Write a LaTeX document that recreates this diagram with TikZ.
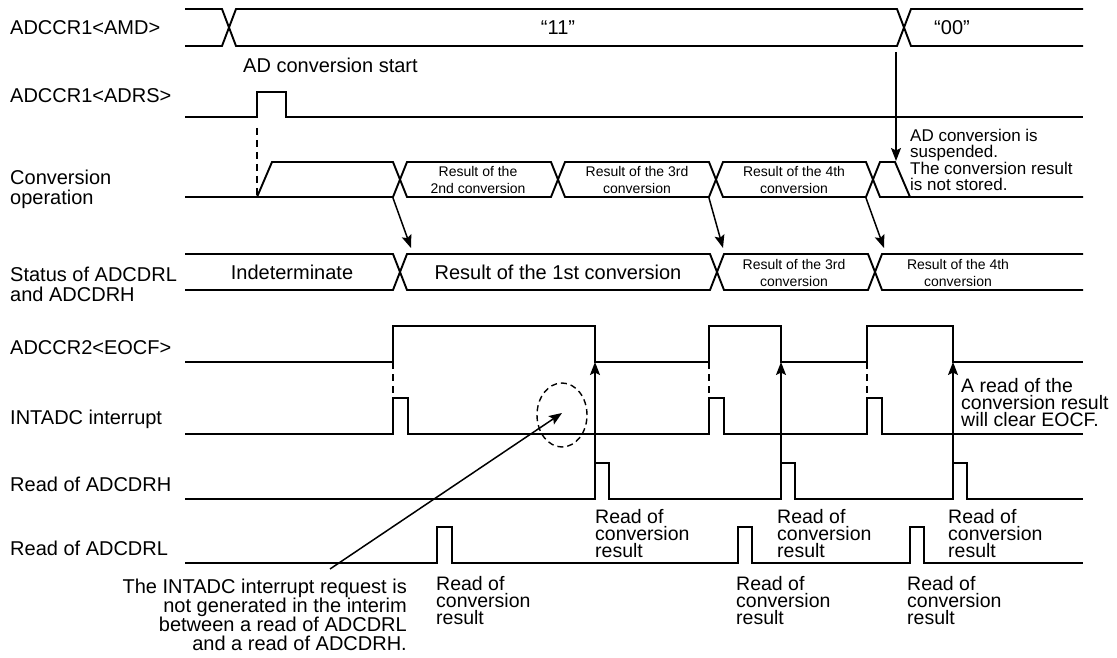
\documentclass[tikz,border=0pt]{standalone}
\usepackage{fontspec}
\setmainfont{Liberation Sans}
\usetikzlibrary{arrows.meta,shapes.geometric}
\begin{document}
\begin{tikzpicture}[x=1pt,y=-1pt,
  sig/.style={line width=1.9pt, line join=miter},
  dsh/.style={line width=1.9pt, dash pattern=on 7pt off 5pt},
  arr/.style={line width=1.5pt, -{Stealth[length=13pt,width=10pt,inset=2.5pt]}},
  lbl/.style={anchor=base west, inner sep=0pt, font=\fontsize{20}{20}\selectfont},
  lbltwo/.style={anchor=north west, inner sep=0pt, align=left, font=\fontsize{20}{20}\selectfont},
  big/.style={inner sep=0pt, font=\fontsize{20}{20}\selectfont},
  small/.style={anchor=north, inner sep=0pt, align=center, font=\fontsize{14}{17}\selectfont},
  readres/.style={anchor=north west, inner sep=0pt, align=left, font=\fontsize{19.5}{17}\selectfont},
  note/.style={inner sep=0pt, font=\fontsize{17}{16.3}\selectfont}
]
\useasboundingbox (0,0) rectangle (1117,658);

% ---- left labels
\node[lbl] (lamd) at (10,35) {ADCCR1<AMD>};
\node[lbl] (ladrs) at (10,103) {ADCCR1<ADRS>};
\node[lbltwo] (lconv) at (10,170) {Conversion\\operation};
\node[lbltwo] (lstat) at (10,267) {Status of ADCDRL\\and ADCDRH};
\node[lbl] (leocf) at (10,354) {ADCCR2<EOCF>};
\node[lbl] (lint) at (10,424) {INTADC interrupt};
\node[lbl] (lrdh) at (10,491) {Read of ADCDRH};
\node[lbl] (lrdl) at (10,555) {Read of ADCDRL};

% ---- ADCCR1<AMD>
\draw[sig] (185,9) -- (222,9) -- (236,46) -- (897,46) -- (911,9) -- (1083,9);
\draw[sig] (185,46) -- (222,46) -- (236,9) -- (897,9) -- (911,46) -- (1083,46);
\node[big] (v11) at (558,28) {“11”};
\node[big] (v00) at (952,28) {“00”};

% ---- ADCCR1<ADRS>
\draw[sig] (185,117) -- (257,117) -- (257,92) -- (286,92) -- (286,117) -- (1083,117);
\node[lbl] (adstart) at (243,73) {AD conversion start};
\coordinate (ds1) at (257,128);
\coordinate (ds2) at (257,197);
\draw[dsh] (ds1) -- (ds2);

% ---- Conversion operation
\draw[sig] (185,197) -- (257,197) -- (272,162) -- (393,162) -- (407,197) -- (551,197) -- (565,162) -- (709,162) -- (723,197) -- (866,197) -- (880,162) -- (895,162) -- (910,197);
\draw[sig] (257,197) -- (393,197) -- (407,162) -- (551,162) -- (565,197) -- (709,197) -- (723,162) -- (866,162) -- (880,197) -- (1083,197);
\node[small] (c2) at (478,166) {Result of the\\2nd conversion};
\node[small] (c3) at (637,166) {Result of the 3rd\\conversion};
\node[small] (c4) at (794,166) {Result of the 4th\\conversion};

% suspension
\coordinate (susA) at (896,52);
\coordinate (susB) at (896,161);
\draw[arr] (susA) -- (susB);
\node[note, anchor=north west, align=left] (susp) at (910,129) {AD conversion is\\suspended.\\The conversion result\\is not stored.};

% ---- Status
\draw[sig] (185,254) -- (393,254) -- (407,290) -- (710,290) -- (724,254) -- (868,254) -- (882,290) -- (1083,290);
\draw[sig] (185,290) -- (393,290) -- (407,254) -- (710,254) -- (724,290) -- (868,290) -- (882,254) -- (1083,254);
\node[big] (sind) at (292,272) {Indeterminate};
\node[big] (s1) at (558,272) {Result of the 1st conversion};
\node[small] (s3) at (794,259) {Result of the 3rd\\conversion};
\node[small] (s4) at (958,259) {Result of the 4th\\conversion};

% conversion -> status arrows
\coordinate (ca1) at (393,198);
\coordinate (cb1) at (411,248);
\coordinate (ca2) at (709,198);
\coordinate (cb2) at (723,248);
\coordinate (ca3) at (866,198);
\coordinate (cb3) at (884,248);
\draw[arr] (ca1) -- (cb1);
\draw[arr] (ca2) -- (cb2);
\draw[arr] (ca3) -- (cb3);

% ---- EOCF
\draw[sig] (185,362) -- (393,362) -- (393,326) -- (595,326) -- (595,362) -- (709,362) -- (709,326) -- (781,326) -- (781,362) -- (867,362) -- (867,326) -- (953,326) -- (953,362) -- (1083,362);

% ---- INTADC
\draw[sig] (185,434) -- (393,434) -- (393,398) -- (408,398) -- (408,434) -- (709,434) -- (709,398) -- (724,398) -- (724,434) -- (867,434) -- (867,398) -- (882,398) -- (882,434) -- (1083,434);
\coordinate (e1a) at (393,362); \coordinate (e1b) at (393,398);
\coordinate (e2a) at (709,362); \coordinate (e2b) at (709,398);
\coordinate (e3a) at (867,362); \coordinate (e3b) at (867,398);
\draw[dsh] (e1a) -- (e1b);
\draw[dsh] (e2a) -- (e2b);
\draw[dsh] (e3a) -- (e3b);

% ---- Read of ADCDRH
\draw[sig] (185,499) -- (595,499) -- (595,463) -- (609,463) -- (609,499) -- (781,499) -- (781,463) -- (795,463) -- (795,499) -- (953,499) -- (953,463) -- (967,463) -- (967,499) -- (1083,499);
% ---- Read of ADCDRL
\draw[sig] (185,563) -- (437,563) -- (437,527) -- (452,527) -- (452,563) -- (738,563) -- (738,527) -- (752,527) -- (752,563) -- (910,563) -- (910,527) -- (924,527) -- (924,563) -- (1083,563);

% read -> EOCF clear arrows
\coordinate (r1a) at (595,463); \coordinate (r1b) at (595,362);
\coordinate (r2a) at (781,463); \coordinate (r2b) at (781,362);
\coordinate (r3a) at (953,463); \coordinate (r3b) at (953,362);
\draw[arr] (r1a) -- (r1b);
\draw[arr] (r2a) -- (r2b);
\draw[arr] (r3a) -- (r3b);
\node[readres] (clr) at (961,378) {A read of the\\conversion result\\will clear EOCF.};

% read result labels
\node[readres] (rh1) at (595,509) {Read of\\conversion\\result};
\node[readres] (rh2) at (777,509) {Read of\\conversion\\result};
\node[readres] (rh3) at (948,509) {Read of\\conversion\\result};
\node[readres] (rl1) at (436,576) {Read of\\conversion\\result};
\node[readres] (rl2) at (736,576) {Read of\\conversion\\result};
\node[readres] (rl3) at (907,576) {Read of\\conversion\\result};

% ---- interim annotation
\node[draw, dash pattern=on 6pt off 4pt, line width=1.4pt, ellipse, minimum width=50pt, minimum height=64pt, inner sep=0pt] (ell) at (562,415) {};
\node[anchor=north east, inner sep=0pt, align=right, font=\fontsize{20}{19}\selectfont] (interim) at (407,579) {The INTADC interrupt request is\\not generated in the interim\\between a read of ADCDRL\\and a read of ADCDRH.};
\coordinate (ia) at (330,569);
\coordinate (ib) at (562,413);
\draw[arr] (ia) -- (ib);
\end{tikzpicture}
\end{document}
